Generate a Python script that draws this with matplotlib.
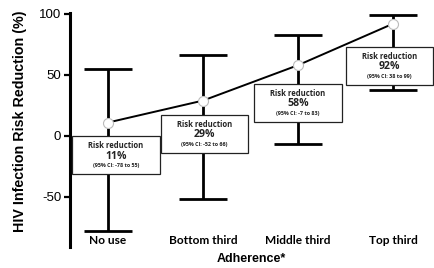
import numpy as np
import matplotlib
matplotlib.use("Agg")
import matplotlib.pyplot as plt
import matplotlib.patches as mpatches

plt.rcParams["axes.unicode_minus"] = False

# ── data ─────────────────────────────────────────────────────────
groups = ["No use", "Bottom third", "Middle third", "Top third"]
risk_reduction = [11, 29, 58, 92]
ci_low = [-78, -52, -7, 38]
ci_high = [55, 66, 83, 99]

# label boxes: horizontal offset of box centre, top of box (data units)
box_dx = [0.085, 0.015, 0.0, -0.04]
box_top = [0, 17.4, 42.7, 73]
BOX_W, BOX_H = 0.92, 31

fig = plt.figure(figsize=(4.34, 2.68), dpi=100)
ax = fig.add_axes([69.5 / 434, 1 - 247 / 268, 364.5 / 434, 234.3 / 268])

x = np.arange(len(groups))
yerr = [np.array(risk_reduction) - np.array(ci_low),
        np.array(ci_high) - np.array(risk_reduction)]

ax.errorbar(x, risk_reduction, yerr=yerr, fmt="none", ecolor="black",
            elinewidth=2.0, capsize=17, capthick=2.0, zorder=2)
ax.plot(x, risk_reduction, "-", color="black", lw=1.4, zorder=3)
ax.plot(x, risk_reduction, "o", ms=7.2, mfc="white", mec="#bbbbbb",
        mew=0.8, zorder=5)

box_font = "Open Sans"
for i, xi in enumerate(x):
    cx = xi + box_dx[i]
    top = box_top[i]
    rect = mpatches.Rectangle((cx - BOX_W / 2, top - BOX_H), BOX_W, BOX_H,
                              fc="white", ec="#222222", lw=0.9, zorder=4)
    ax.add_patch(rect)
    ax.text(cx, top - 0.26 * BOX_H, "Risk reduction", ha="center",
            va="center", fontsize=5.5, fontweight="bold", family=box_font,
            color="#222222", zorder=6)
    ax.text(cx, top - 0.53 * BOX_H, f"{risk_reduction[i]}%", ha="center",
            va="center", fontsize=7.6, fontweight="bold", family=box_font,
            color="#222222", zorder=6)
    ax.text(cx, top - 0.79 * BOX_H,
            f"(95% CI: {ci_low[i]} to {ci_high[i]})", ha="center",
            va="center", fontsize=3.9, fontweight="bold", family=box_font,
            color="#222222", zorder=6)

ax.set_xlim(-0.405, 3.43)
ax.set_ylim(-91, 101)
ax.set_yticks([-50, 0, 50, 100])
ax.set_xticks(x)
ax.set_xticklabels(groups, fontsize=8.6, fontweight="bold", family="Lato")

for s in ["top", "right", "bottom"]:
    ax.spines[s].set_visible(False)
ax.spines["left"].set_linewidth(2.2)
ax.tick_params(axis="y", length=4, width=1.6, labelsize=9.5, pad=2)
ax.tick_params(axis="x", length=0, pad=-9)
for lab in ax.get_yticklabels():
    lab.set_family("Liberation Sans")

ax.set_ylabel("HIV Infection Risk Reduction (%)", fontsize=10.3,
              fontweight="bold", family="Liberation Sans")
ax.yaxis.set_label_coords(-0.117, 0.536)
ax.set_xlabel("Adherence*", fontsize=9, fontweight="bold",
              family="Liberation Sans")
ax.xaxis.set_label_coords(0.5, -0.026)

fig.savefig("out.png", dpi=100)
